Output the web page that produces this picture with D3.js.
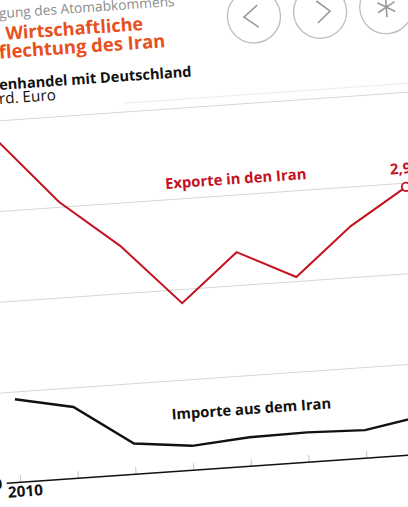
<!DOCTYPE html>
<html><head><meta charset="utf-8">
<script src="https://cdn.jsdelivr.net/npm/d3@7"></script>
<style>
html,body{margin:0;padding:0;background:#fff;overflow:hidden}
svg{display:block}
text{font-family:"Open Sans",sans-serif}
</style></head><body>
<svg id="c" width="408" height="507"></svg>
<script>
// ---- data ----
const years = [2010, 2011, 2012, 2013, 2014, 2015, 2016, 2017];
const exportsIran = [3.79, 3.06, 2.53, 1.85, 2.37, 2.05, 2.57, 2.96];
const importsIran = [0.92, 0.79, 0.34, 0.27, 0.32, 0.33, 0.31, 0.42];
const yTicks = [0, 1, 2, 3, 4];
const xLabels = ["2010"];
const kicker = "Nach der Einigung des Atomabkommens";
const titleLines = ["Die", "Wirtschaftliche", "Verflechtung des Iran"];
const subtitle = "Außenhandel mit Deutschland";
const unit = "in Mrd. Euro";
const exportLabel = "Exporte in den Iran";
const importLabel = "Importe aus dem Iran";
const lastLabel = "2,96";
const buttons = ["prev", "next", "star"];

// ---- drawing ----
const svg = d3.select("#c");
svg.append("rect").attr("width", 408).attr("height", 507).attr("fill", "#fff");
const g = svg.append("g").attr("transform", "translate(20.7,482.3) rotate(-4)");

const x = d3.scaleLinear().domain([2010, 2017]).range([0, 405]);
const y = d3.scaleLinear().domain([0, 4]).range([0, -362]);

function fit(sel, sub, target) {
  const t = g.append("text").attr("font-size", 20)
    .attr("font-weight", sel.attr("font-weight")).text(sub);
  const w = t.node().getComputedTextLength();
  t.remove();
  sel.attr("font-size", 20 * target / w);
  return sel;
}

// header
const kick = g.append("text").attr("x", 187).attr("y", -464.4).attr("text-anchor", "end")
  .attr("font-weight", 400).attr("fill", "#8c8c8c").text(kicker);
fit(kick, "gung des Atomabkommens", 176);

const t1 = g.append("text").attr("x", 154).attr("y", -442.6).attr("text-anchor", "end")
  .attr("font-weight", 700).attr("fill", "#e8501e").text(titleLines[1]);
fit(t1, titleLines[1], 138);
const t1w = t1.node().getComputedTextLength();
g.append("text").attr("x", 154 - t1w - 14).attr("y", -442.6).attr("text-anchor", "end")
  .attr("font-weight", 700).attr("fill", "#e8501e").attr("font-size", t1.attr("font-size"))
  .text(titleLines[0]);
const t2 = g.append("text").attr("x", 175).attr("y", -424.1).attr("text-anchor", "end")
  .attr("font-weight", 700).attr("fill", "#e8501e").text(titleLines[2]);
fit(t2, "flechtung des Iran", 167);

const st = g.append("text").attr("x", 199).attr("y", -392.9).attr("text-anchor", "end")
  .attr("font-weight", 700).attr("fill", "#111").text(subtitle);
fit(st, "enhandel mit Deutschland", 193);
const un = g.append("text").attr("x", 62).attr("y", -378.9).attr("text-anchor", "end")
  .attr("font-weight", 400).attr("fill", "#111").text(unit);
fit(un, "rd. Euro", 57);

g.append("line").attr("x1", 130).attr("x2", 620).attr("y1", -371).attr("y2", -371)
  .attr("stroke", "#ececec").attr("stroke-width", 1);

// buttons
const bx = d3.scaleBand().domain(buttons).range([232, 431]);
const bg = g.selectAll("g.btn").data(buttons).join("g")
  .attr("transform", d => `translate(${bx(d) + bx.bandwidth() / 2},-448.5)`);
bg.append("circle").attr("r", 26.5).attr("fill", "#fff").attr("stroke", "#bdbdbd").attr("stroke-width", 1.3);
bg.filter(d => d === "prev").append("path").attr("d", "M4,-11L-10,0L4,11")
  .attr("fill", "none").attr("stroke", "#9a9a9a").attr("stroke-width", 1.6);
bg.filter(d => d === "next").append("path").attr("d", "M-3,-11L10,0L-3,11")
  .attr("fill", "none").attr("stroke", "#9a9a9a").attr("stroke-width", 1.6);
bg.filter(d => d === "star").selectAll("line").data([90, 30, 150]).join("line")
  .attr("x1", a => 10 * Math.cos(a * Math.PI / 180)).attr("y1", a => -10 * Math.sin(a * Math.PI / 180))
  .attr("x2", a => -10 * Math.cos(a * Math.PI / 180)).attr("y2", a => 10 * Math.sin(a * Math.PI / 180))
  .attr("stroke", "#9a9a9a").attr("stroke-width", 1.6);

// gridlines
g.selectAll("line.grid").data(yTicks.filter(d => d > 0)).join("line").attr("class", "grid")
  .attr("x1", -14).attr("x2", 620).attr("y1", d => y(d)).attr("y2", d => y(d))
  .attr("stroke", "#d6d6d6").attr("stroke-width", 1);

// y labels
g.selectAll("text.yl").data(yTicks).join("text").attr("class", "yl")
  .attr("x", -18.5).attr("y", d => y(d) + 5).attr("text-anchor", "end")
  .attr("font-weight", 700).attr("font-size", 14).attr("fill", "#111").text(d => d);

// ticks
g.selectAll("line.tick").data(years).join("line").attr("class", "tick")
  .attr("x1", d => x(d)).attr("x2", d => x(d)).attr("y1", 0).attr("y2", -7)
  .attr("stroke", "#c4c4c4").attr("stroke-width", 1);

// axis
g.append("line").attr("x1", -14).attr("x2", 620).attr("y1", 0).attr("y2", 0)
  .attr("stroke", "#111").attr("stroke-width", 1.6);

const xl = g.selectAll("text.xl").data(xLabels).join("text").attr("class", "xl")
  .attr("x", -13.4).attr("y", 14.5).attr("text-anchor", "start")
  .attr("font-weight", 700).attr("fill", "#111").text(d => d);
fit(xl, "2010", 35);

// lines
const line = d3.line().x((d, i) => x(years[i])).y(d => y(d));
g.append("path").datum(exportsIran).attr("d", line).attr("fill", "none")
  .attr("stroke", "#c4121f").attr("stroke-width", 2).attr("stroke-linejoin", "miter");
g.append("path").datum(importsIran).attr("d", line).attr("fill", "none")
  .attr("stroke", "#111").attr("stroke-width", 2.4);

const last = exportsIran.length - 1;
g.append("circle").attr("cx", x(years[last])).attr("cy", y(exportsIran[last])).attr("r", 4.2)
  .attr("fill", "#fff").attr("stroke", "#c4121f").attr("stroke-width", 1.8);

// labels
const el = g.append("text").attr("x", 235.6).attr("y", -282.6).attr("text-anchor", "middle")
  .attr("font-weight", 700).attr("fill", "#c4121f").text(exportLabel);
fit(el, exportLabel, 141.7);
const il = g.append("text").attr("x", 235.2).attr("y", -52).attr("text-anchor", "middle")
  .attr("font-weight", 700).attr("fill", "#111").text(importLabel);
fit(il, importLabel, 160);
g.append("text").attr("x", x(years[last])).attr("y", y(exportsIran[last]) - 13.4)
  .attr("text-anchor", "middle").attr("font-weight", 700).attr("fill", "#c4121f")
  .attr("font-size", el.attr("font-size")).text(lastLabel);
</script>
</body></html>
